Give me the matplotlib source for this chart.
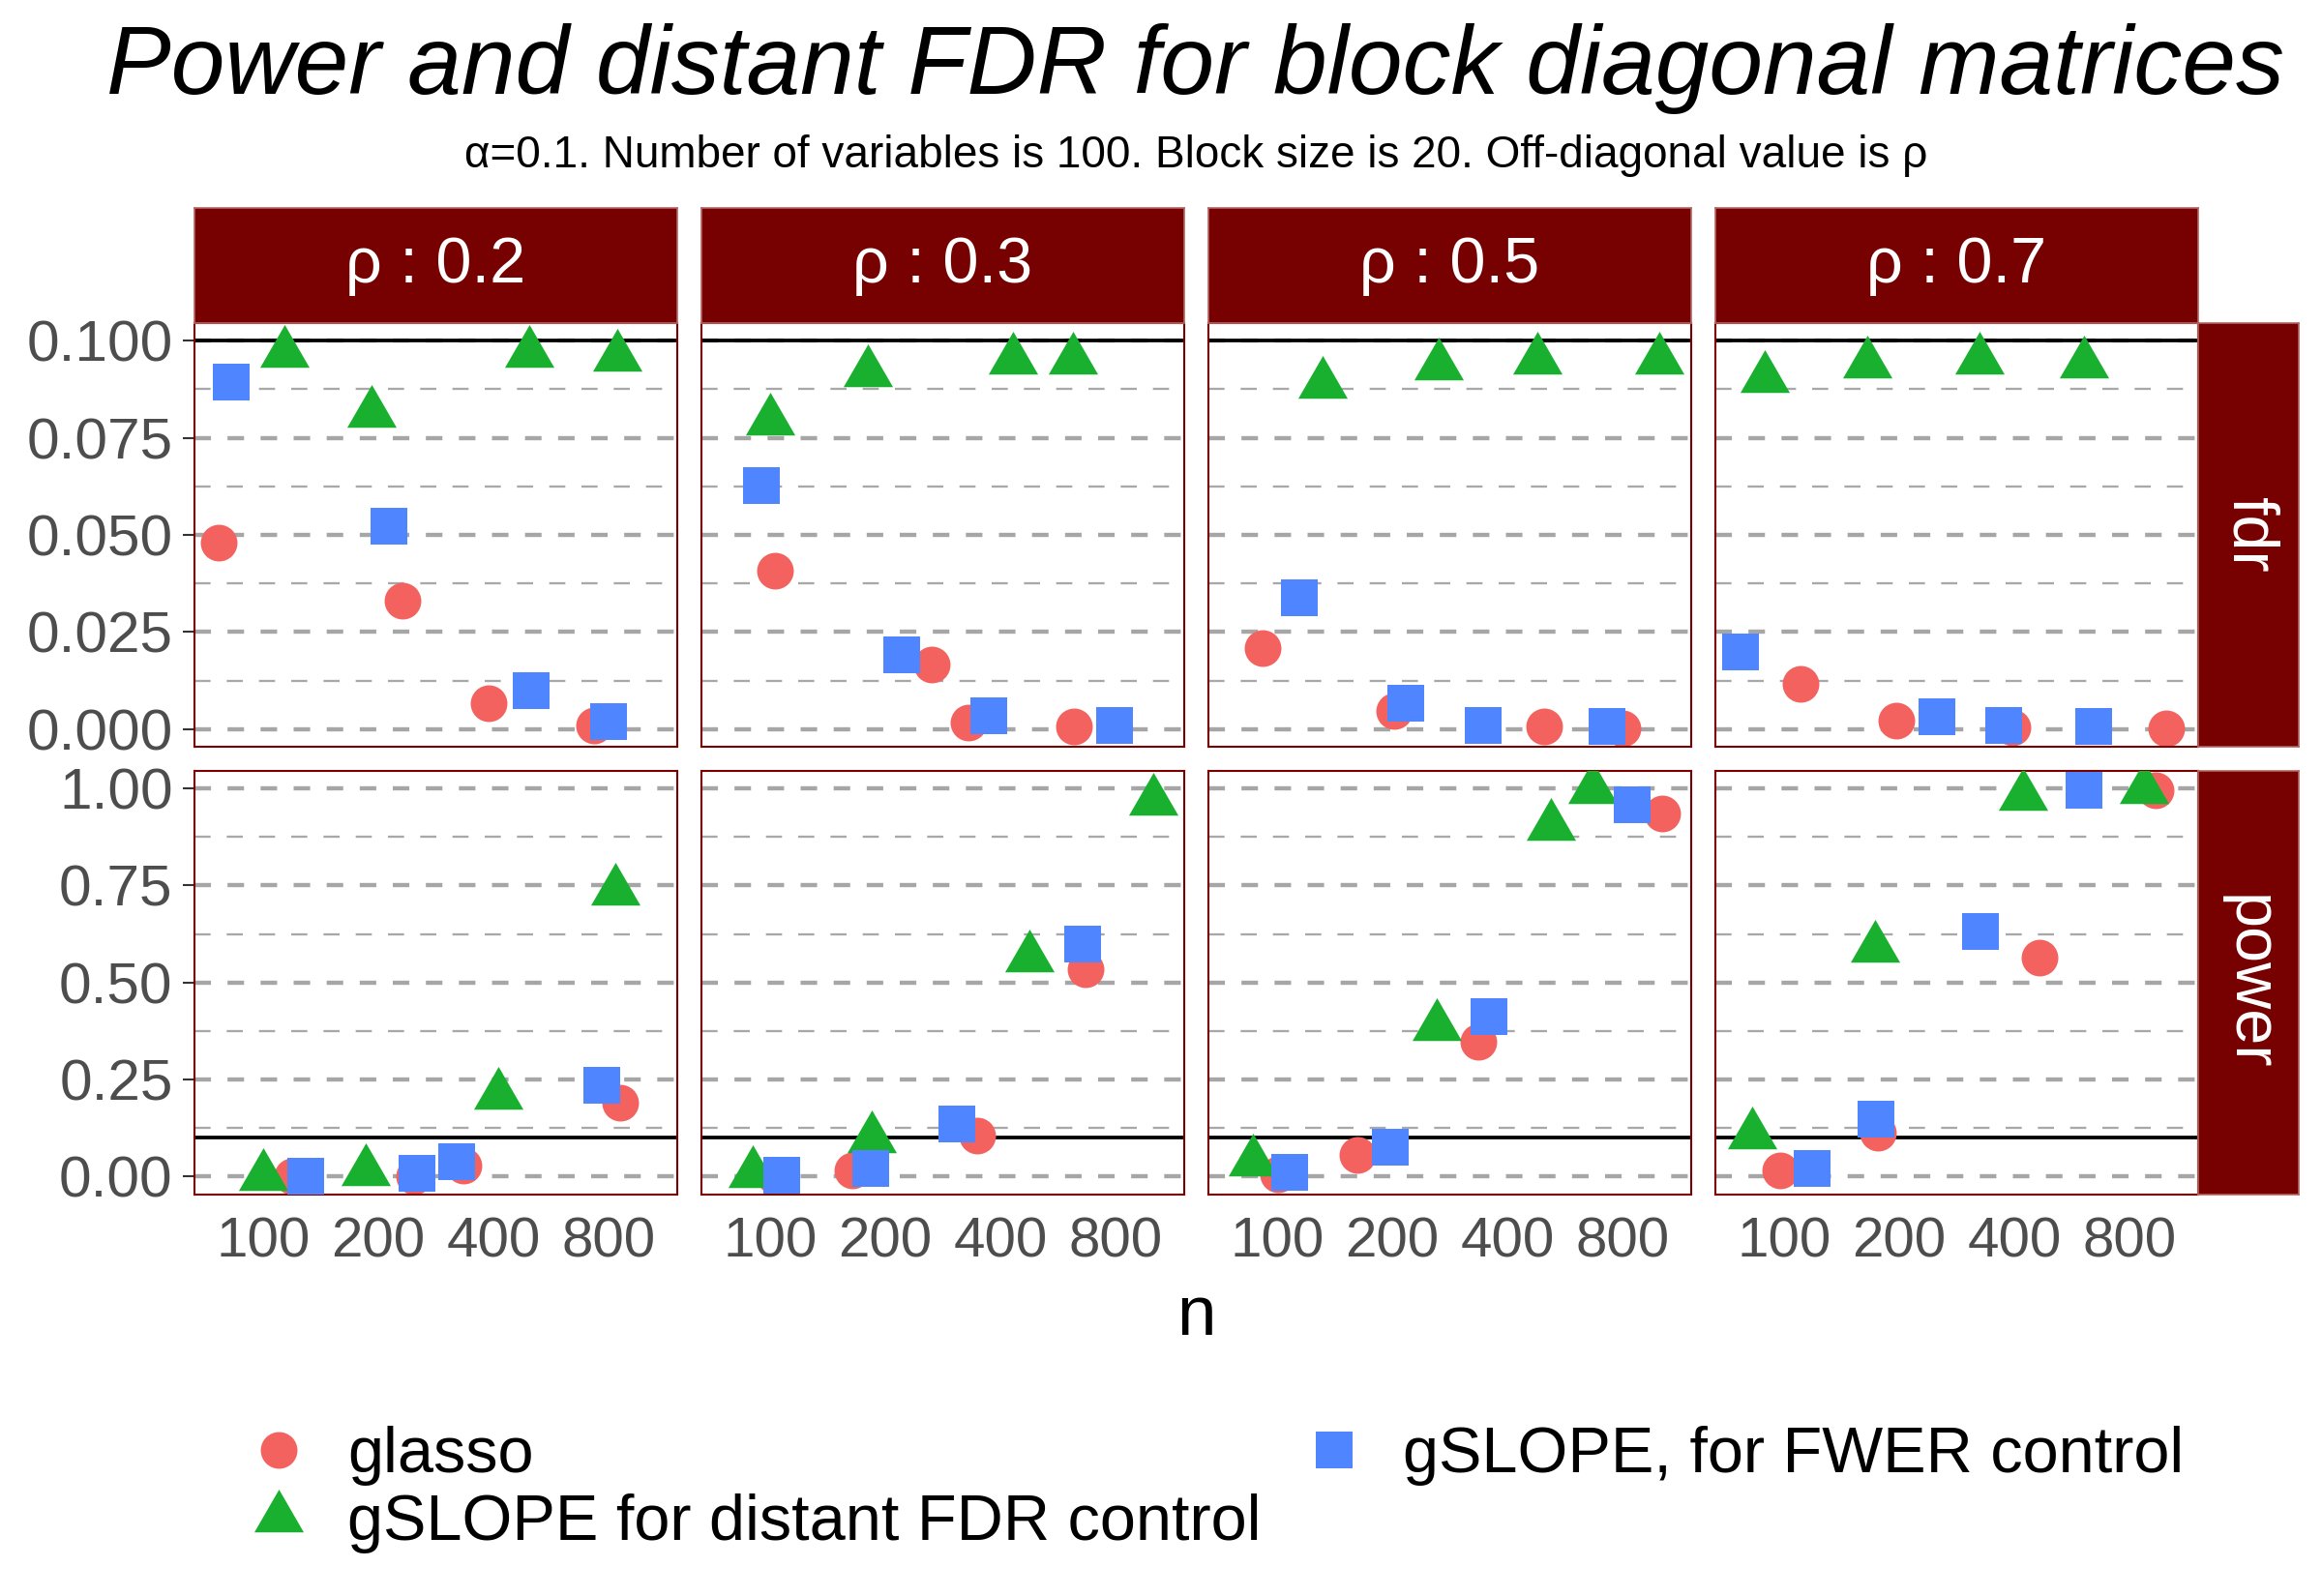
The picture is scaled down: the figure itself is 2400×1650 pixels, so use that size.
import matplotlib
matplotlib.use('Agg')
import matplotlib.pyplot as plt
from matplotlib.lines import Line2D

plt.rcParams['font.family'] = ['Liberation Sans', 'DejaVu Sans']
plt.rcParams['lines.scale_dashes'] = False

# ---------------- data ----------------
rho_values = [0.2, 0.3, 0.5, 0.7]
n_labels = ['100', '200', '400', '800']
methods = ['glasso', 'gSLOPE for distant FDR control', 'gSLOPE, for FWER control']
metrics = ['fdr', 'power']
alpha_level = 0.1

# values: rows = rho (0.2, 0.3, 0.5, 0.7), columns = n (100, 200, 400, 800)
fdr_glasso = [[0.0480, 0.0330, 0.0067, 0.0010],
              [0.0407, 0.0166, 0.0018, 0.0007],
              [0.0210, 0.0048, 0.0007, 0.0002],
              [0.0118, 0.0021, 0.0005, 0.0003]]
fdr_gslope_fdr = [[0.0969, 0.0813, 0.0967, 0.0959],
                  [0.0794, 0.0919, 0.0950, 0.0950],
                  [0.0889, 0.0935, 0.0950, 0.0950],
                  [0.0903, 0.0941, 0.0950, 0.0941]]
fdr_gslope_fwer = [[0.0894, 0.0523, 0.0100, 0.0020],
                   [0.0628, 0.0191, 0.0035, 0.0010],
                   [0.0337, 0.0066, 0.0010, 0.0007],
                   [0.0198, 0.0033, 0.0009, 0.0007]]

power_glasso = [[0.000, 0.000, 0.027, 0.189],
                [0.000, 0.014, 0.104, 0.534],
                [0.005, 0.055, 0.348, 0.935],
                [0.014, 0.113, 0.564, 0.995]]
power_gslope_fdr = [[0.000, 0.013, 0.210, 0.737],
                    [0.006, 0.097, 0.563, 0.969],
                    [0.038, 0.386, 0.903, 0.999],
                    [0.106, 0.589, 0.981, 0.999]]
power_gslope_fwer = [[0.000, 0.006, 0.038, 0.235],
                     [0.003, 0.020, 0.135, 0.599],
                     [0.010, 0.075, 0.411, 0.959],
                     [0.020, 0.146, 0.631, 0.997]]

# horizontal jitter (in category units)
fdr_glasso_jit = [[-0.39, 0.21, -0.04, -0.12],
                  [0.04, 0.40, -0.28, -0.36],
                  [-0.13, 0.02, 0.32, 0.00],
                  [0.14, -0.03, -0.02, 0.32]]
fdr_gslope_fdr_jit = [[0.18, -0.06, 0.31, 0.08],
                      [0.00, -0.15, 0.11, -0.37],
                      [0.39, 0.40, 0.26, 0.32],
                      [-0.17, -0.28, -0.30, -0.39]]
fdr_gslope_fwer_jit = [[-0.28, 0.09, 0.33, 0.00],
                       [-0.08, 0.14, -0.10, -0.01],
                       [0.19, 0.12, -0.21, -0.13],
                       [-0.38, 0.33, -0.09, -0.31]]

power_glasso_jit = [[0.25, 0.31, -0.26, 0.10],
                    [0.04, -0.29, -0.20, -0.26],
                    [0.01, -0.30, -0.25, 0.35],
                    [-0.04, -0.19, 0.22, 0.23]]
power_gslope_fdr_jit = [[0.00, -0.11, 0.04, 0.06],
                        [-0.15, -0.12, 0.25, 0.33],
                        [-0.21, 0.39, 0.38, -0.26],
                        [-0.28, -0.21, 0.08, 0.13]]
power_gslope_fwer_jit = [[0.37, 0.34, -0.32, -0.06],
                         [0.10, -0.13, -0.38, -0.28],
                         [0.11, -0.02, -0.16, 0.09],
                         [0.24, -0.20, -0.29, -0.39]]

values = {
    'fdr': [fdr_glasso, fdr_gslope_fdr, fdr_gslope_fwer],
    'power': [power_glasso, power_gslope_fdr, power_gslope_fwer],
}
jitters = {
    'fdr': [fdr_glasso_jit, fdr_gslope_fdr_jit, fdr_gslope_fwer_jit],
    'power': [power_glasso_jit, power_gslope_fdr_jit, power_gslope_fwer_jit],
}

# ---------------- styles ----------------
colors = ['#F3625E', '#18B02E', '#4F86FF']
tri = [(0.0, 1.0), (-0.8660254, -0.5), (0.8660254, -0.5)]  # centroid-centred triangle
markers = ['o', tri, 's']
msizes = [18.2, 28.3, 18.5]
strip_col = '#770000'
border_col = '#7A0000'
tick_col = '#4D4D4D'

W, H = 2400, 1650
fig = plt.figure(figsize=(16, 11), dpi=150)
fig.patch.set_facecolor('white')

panel_left = [201, 725, 1249, 1773]
panel_w = 499
row_top = [334, 797]
panel_h = 438
ylims = {'fdr': (-0.0045, 0.1045), 'power': (-0.0477, 1.0458)}
yticks = {'fdr': [0, 0.025, 0.05, 0.075, 0.1], 'power': [0, 0.25, 0.5, 0.75, 1.0]}
ytlabels = {'fdr': ['0.000', '0.025', '0.050', '0.075', '0.100'],
            'power': ['0.00', '0.25', '0.50', '0.75', '1.00']}
yminor = {'fdr': [0.0125, 0.0375, 0.0625, 0.0875], 'power': [0.125, 0.375, 0.625, 0.875]}


def fr(x0, y0, w, h):
    return [x0 / W, 1 - (y0 + h) / H, w / W, h / H]


for r, metric in enumerate(metrics):
    for c, rho in enumerate(rho_values):
        ax = fig.add_axes(fr(panel_left[c], row_top[r], panel_w, panel_h))
        ax.set_xlim(0.4, 4.6)
        ax.set_ylim(*ylims[metric])
        for ln in yticks[metric]:
            ax.axhline(ln, color='#A6A6A6', lw=2.1, ls=(0, (8.2, 8.2)), zorder=0)
        for ln in yminor[metric]:
            ax.axhline(ln, color='#A8A8A8', lw=1.1, ls=(0, (8.0, 8.0)), zorder=0)
        ax.axhline(alpha_level, color='black', lw=1.8, zorder=1)
        for m in range(3):
            xs = [k + 1 + jitters[metric][m][c][k] for k in range(4)]
            ys = values[metric][m][c]
            ax.plot(xs, ys, linestyle='none', marker=markers[m], ms=msizes[m],
                    color=colors[m], markeredgewidth=0, zorder=2 + m)
        ax.set_xticks([1, 2, 3, 4])
        if r == 1:
            ax.set_xticklabels(n_labels, fontsize=28, color=tick_col)
        else:
            ax.set_xticklabels([])
        ax.tick_params(axis='x', length=0, pad=11)
        ax.set_yticks(yticks[metric])
        if c == 0:
            ax.set_yticklabels(ytlabels[metric], fontsize=29, color=tick_col)
            ax.tick_params(axis='y', length=5.8, width=1.0, color='#333333', pad=5)
        else:
            ax.set_yticklabels([])
            ax.tick_params(axis='y', length=0)
        for sp in ax.spines.values():
            sp.set_color(border_col)
            sp.set_linewidth(1.0)
        ax.set_facecolor('white')

# top strips
for c, rho in enumerate(rho_values):
    sax = fig.add_axes(fr(panel_left[c], 215, panel_w, 119))
    sax.set_facecolor(strip_col)
    sax.set_xticks([]); sax.set_yticks([])
    for sp in sax.spines.values():
        sp.set_color('#B46464'); sp.set_linewidth(0.8)
    sax.text(0.5, 0.5, '\u03c1 : ' + str(rho), color='white', fontsize=32,
             ha='center', va='center', transform=sax.transAxes)

# right strips
for r, metric in enumerate(metrics):
    sax = fig.add_axes(fr(2272, row_top[r], 104, panel_h))
    sax.set_facecolor(strip_col)
    sax.set_xticks([]); sax.set_yticks([])
    for sp in sax.spines.values():
        sp.set_color('#B46464'); sp.set_linewidth(0.8)
    sax.text(0.5, 0.5, metric, color='white', fontsize=32, rotation=-90,
             ha='center', va='center', transform=sax.transAxes)

# titles
fig.text(1236 / W, 1 - 97 / H, 'Power and distant FDR for block diagonal matrices',
         ha='center', va='baseline', fontsize=48, style='italic')
fig.text(1236 / W, 1 - 173 / H,
         '\u03b1=0.1. Number of variables is 100. Block size is 20. Off-diagonal value is \u03c1',
         ha='center', va='baseline', fontsize=22)
fig.text(1236 / W, 1 - 1361 / H, 'n', ha='center', va='center', fontsize=35)

# legend
handles = [Line2D([], [], linestyle='none', marker=markers[m], ms=msizes[m],
                  color=colors[m], markeredgewidth=0) for m in range(3)]
fig.legend(handles, methods, loc='upper left', bbox_to_anchor=(261 / W, 1 - 1474 / H),
           ncol=2, frameon=False, fontsize=32, handlelength=0.8, handletextpad=0.67,
           columnspacing=0.73, labelspacing=0.12, borderpad=0, borderaxespad=0)

fig.savefig('out.png', dpi=150, facecolor='white')
